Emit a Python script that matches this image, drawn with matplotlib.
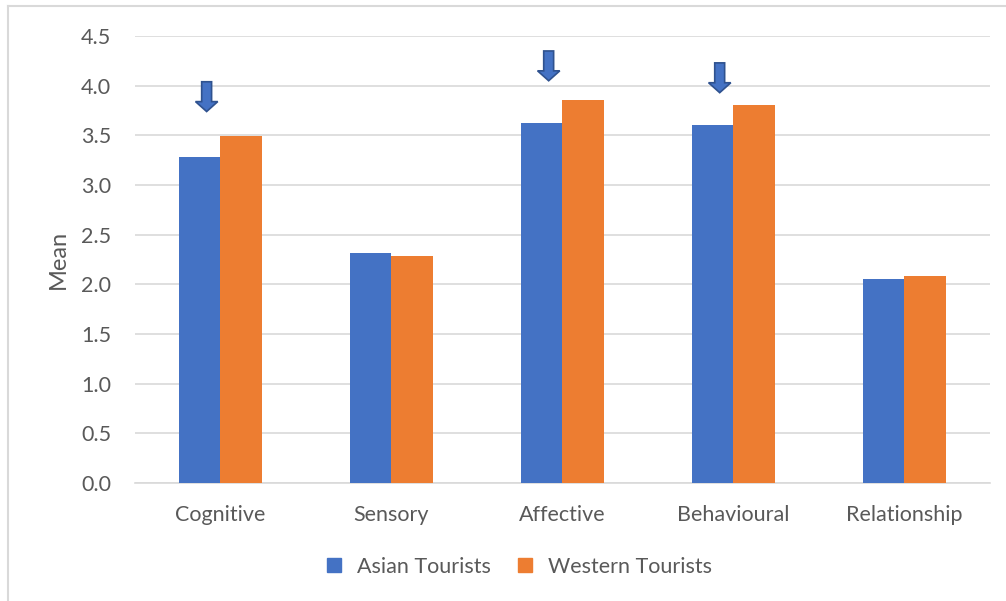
import matplotlib.pyplot as plt
from matplotlib.patches import FancyArrow
from matplotlib.lines import Line2D
import numpy as np

categories = ['Cognitive', 'Sensory', 'Affective', 'Behavioural', 'Relationship']
asian = [3.28, 2.32, 3.62, 3.60, 2.05]
western = [3.49, 2.29, 3.86, 3.81, 2.08]
yticks = [0.0, 0.5, 1.0, 1.5, 2.0, 2.5, 3.0, 3.5, 4.0, 4.5]

# arrows: category index and tip height
arrow_cats = [0, 2, 3]
arrow_tips = [3.74, 4.05, 3.93]

blue = '#4472C4'
orange = '#ED7D31'
txt = '#595959'

plt.rcParams['font.family'] = ['Lato', 'DejaVu Sans']

fig = plt.figure(figsize=(10.06, 6.01), dpi=100)
ax = fig.add_axes([0.134, 0.1963, 0.850, 0.7437])

x = np.arange(len(categories))
w = 0.243
ax.bar(x - w / 2, asian, w, color=blue, label='Asian Tourists', zorder=3)
ax.bar(x + w / 2, western, w, color=orange, label='Western Tourists', zorder=3)

for i, tip in zip(arrow_cats, arrow_tips):
    ax.add_patch(FancyArrow(i - 0.08, tip + 0.3, 0, -0.3, width=0.058,
                            head_width=0.13, head_length=0.1,
                            length_includes_head=True, facecolor=blue,
                            edgecolor='#2F528F', linewidth=1.2, zorder=4))

ax.set_xlim(-0.5, len(categories) - 0.5)
ax.set_ylim(0, 4.5)
ax.set_yticks(yticks)
ax.set_yticklabels(['%.1f' % v for v in yticks])
ax.set_xticks(x)
ax.set_xticklabels(categories)
ax.grid(axis='y', color='#D9D9D9', linewidth=1.2, zorder=0)
for s in ['top', 'right', 'left']:
    ax.spines[s].set_visible(False)
ax.spines['bottom'].set_color('#D9D9D9')
ax.spines['bottom'].set_linewidth(1.2)
ax.tick_params(axis='both', length=0, colors=txt, labelsize=15.5)
ax.tick_params(axis='y', pad=17)
ax.tick_params(axis='x', pad=16)
ax.set_ylabel('Mean', color=txt, fontsize=17, labelpad=9)

handles = [Line2D([], [], marker='s', linestyle='', markersize=10, color=blue),
           Line2D([], [], marker='s', linestyle='', markersize=10, color=orange)]
fig.legend(handles, ['Asian Tourists', 'Western Tourists'], loc='center',
           bbox_to_anchor=(0.509, 0.057), ncol=2, frameon=False, fontsize=15.5,
           labelcolor=txt, handletextpad=0.05, columnspacing=0.6)

# chart area border (left and top visible)
fig.add_artist(Line2D([0.008, 0.008], [0, 0.99], transform=fig.transFigure,
                      color='#D9D9D9', linewidth=1.5))
fig.add_artist(Line2D([0.008, 1.0], [0.99, 0.99], transform=fig.transFigure,
                      color='#D9D9D9', linewidth=1.5))

fig.savefig('out.png', dpi=100)
